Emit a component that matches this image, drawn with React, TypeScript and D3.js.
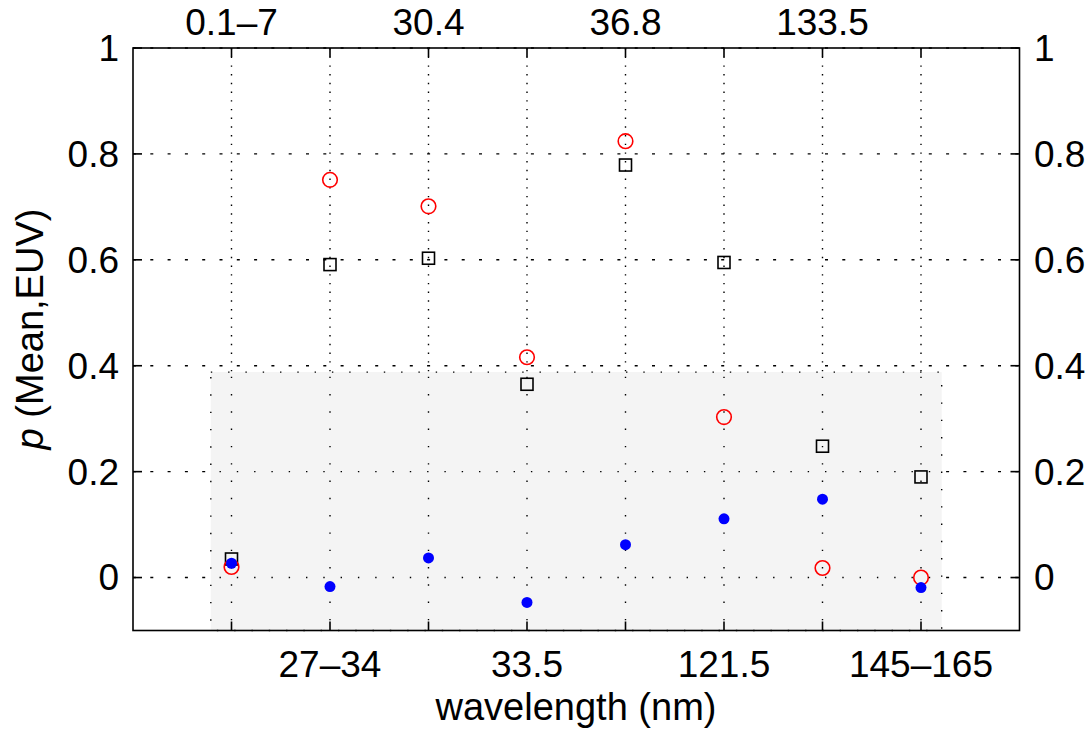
import React from 'react';
import * as d3 from 'd3';

// constants
const width = 1091;
const height = 734;
const font = '"Liberation Sans", Arial, Helvetica, sans-serif';

// wavelength bands, one per position 1..8 (top axis shows odd ones, bottom even ones)
const bands = ['0.1–7', '27–34', '30.4', '33.5', '36.8', '121.5', '133.5', '145–165'];
const positions = [1, 2, 3, 4, 5, 6, 7, 8];

// series
const squareVals = [0.035, 0.591, 0.603, 0.365, 0.779, 0.595, 0.248, 0.19];
const circleVals = [0.02, 0.751, 0.701, 0.416, 0.824, 0.303, 0.018, 0.0];
const dotVals = [0.027, -0.017, 0.037, -0.047, 0.062, 0.111, 0.148, -0.019];

// y ticks
const yTicks = [0, 0.2, 0.4, 0.6, 0.8, 1];
const yTickLabels = ['0', '0.2', '0.4', '0.6', '0.8', '1'];

// shaded region (data units)
const shadeX = [0.79, 8.21];
const shadeY = [-0.1, 0.388];

const App = () => {
  const x = d3.scaleLinear().domain([0, 9]).range([133, 1019.5]);
  const y = d3.scaleLinear().domain([-0.1, 1]).range([630.5, 48]);

  const [x0, x1] = x.range();
  const [yb, yt] = y.range();
  const tick = 9;

  const sx0 = x(shadeX[0]);
  const sx1 = x(shadeX[1]);
  const sy0 = y(shadeY[1]);
  const sy1 = y(shadeY[0]);

  return (
    <svg width={width} height={height} style={{ position: 'absolute', left: 0, top: 0, background: '#fff' }}
      fontFamily={font}>
      <defs>
        <clipPath id="shade-clip">
          <rect x={sx0} y={sy0} width={sx1 - sx0} height={sy1 - sy0} />
        </clipPath>
      </defs>

      {/* grid outside the shade */}
      <g stroke="#000" strokeWidth={1.4}>
        {yTicks.map((t, i) => (
          <line key={'hg' + i} x1={x0} x2={x1} y1={y(t)} y2={y(t)} strokeDasharray="3 14.3" />
        ))}
        {positions.map((p, i) => (
          <line key={'vg' + i} x1={x(p)} x2={x(p)} y1={yt} y2={yb} strokeDasharray="1.4 7.3" />
        ))}
      </g>

      {/* shaded patch with dotted edge */}
      <rect x={sx0} y={sy0} width={sx1 - sx0} height={sy1 - sy0} fill="#f4f4f4"
        stroke="#000" strokeWidth={1.4} strokeDasharray="1.4 15.9" />

      {/* grid inside the shade */}
      <g stroke="#000" strokeWidth={1.4} clipPath="url(#shade-clip)">
        {yTicks.map((t, i) => (
          <line key={'hs' + i} x1={x0} x2={x1} y1={y(t)} y2={y(t)} strokeDasharray="1.4 15.9" />
        ))}
        {positions.map((p, i) => (
          <line key={'vs' + i} x1={x(p)} x2={x(p)} y1={yt} y2={yb} strokeDasharray="1.4 15.9" />
        ))}
      </g>

      {/* markers */}
      <g fill="none" stroke="#000" strokeWidth={1.6}>
        {squareVals.map((v, i) => (
          <rect key={'s' + i} x={x(positions[i]) - 6} y={y(v) - 6} width={12} height={12} />
        ))}
      </g>
      <g fill="none" stroke="#ff0000" strokeWidth={1.6}>
        {circleVals.map((v, i) => (
          <circle key={'c' + i} cx={x(positions[i])} cy={y(v)} r={7.3} />
        ))}
      </g>
      <g fill="#0000ff">
        {dotVals.map((v, i) => (
          <circle key={'d' + i} cx={x(positions[i])} cy={y(v)} r={5.5} />
        ))}
      </g>

      {/* axes box */}
      <rect x={x0} y={yt} width={x1 - x0} height={yb - yt} fill="none" stroke="#000" strokeWidth={1.6} />

      {/* ticks */}
      <g stroke="#000" strokeWidth={1.6}>
        {positions.map((p, i) => (
          <g key={'xt' + i}>
            <line x1={x(p)} x2={x(p)} y1={yt} y2={yt + tick} />
            <line x1={x(p)} x2={x(p)} y1={yb} y2={yb - tick} />
          </g>
        ))}
        {yTicks.map((t, i) => (
          <g key={'yt' + i}>
            <line x1={x0} x2={x0 + tick} y1={y(t)} y2={y(t)} />
            <line x1={x1} x2={x1 - tick} y1={y(t)} y2={y(t)} />
          </g>
        ))}
      </g>

      {/* tick labels */}
      <g fontSize={37} fill="#000">
        {positions.map((p, i) =>
          i % 2 === 0 ? (
            <text key={'tl' + i} x={x(p)} y={35} textAnchor="middle">{bands[i]}</text>
          ) : (
            <text key={'bl' + i} x={x(p)} y={677} textAnchor="middle">{bands[i]}</text>
          )
        )}
        {yTicks.map((t, i) => (
          <g key={'yl' + i}>
            <text x={119} y={y(t)} dy="0.35em" textAnchor="end">{yTickLabels[i]}</text>
            <text x={1034} y={y(t)} dy="0.35em" textAnchor="start">{yTickLabels[i]}</text>
          </g>
        ))}
      </g>

      {/* axis titles */}
      <text x={576} y={720} fontSize={38} textAnchor="middle">wavelength (nm)</text>
      <text transform="translate(43,329) rotate(-90)" fontSize={38} textAnchor="middle">
        <tspan fontStyle="italic">p</tspan> (Mean,EUV)
      </text>
    </svg>
  );
};

export default App;
